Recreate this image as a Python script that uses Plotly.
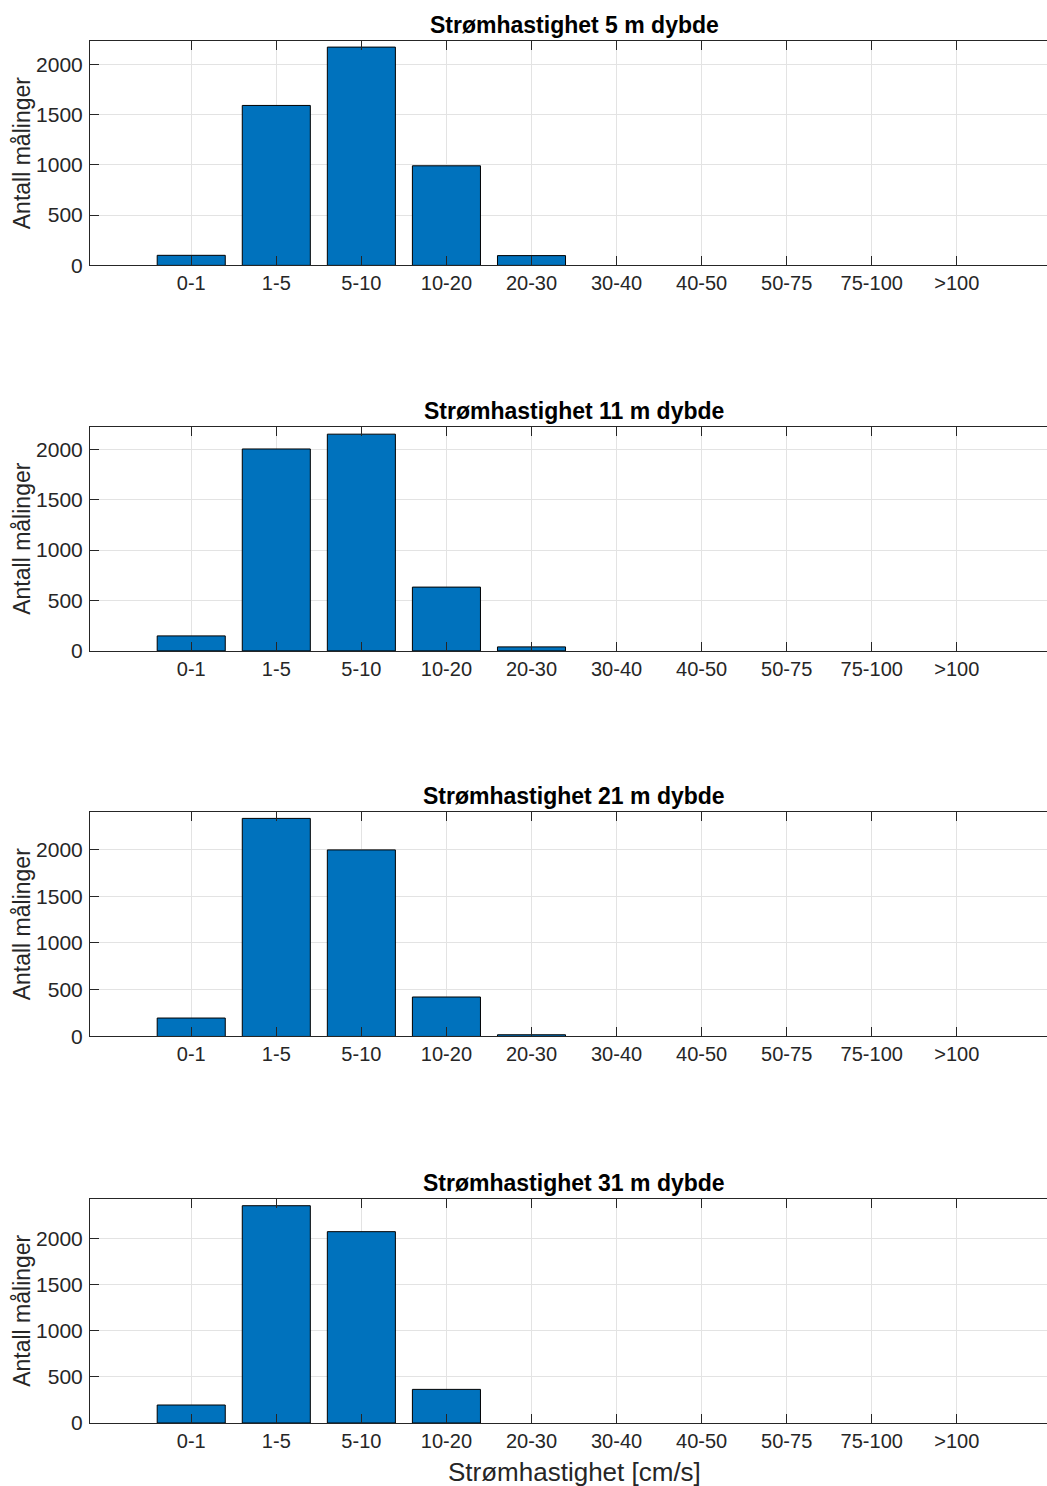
import plotly.graph_objects as go

categories = ["0-1", "1-5", "5-10", "10-20", "20-30", "30-40", "40-50", "50-75", "75-100", ">100"]
depths = ["5", "11", "21", "31"]
counts_5m = [100, 1590, 2170, 990, 97, 0, 0, 0, 0, 0]
counts_11m = [149, 2003, 2150, 633, 40, 0, 0, 0, 0, 0]
counts_21m = [197, 2333, 1996, 422, 18, 0, 0, 0, 0, 0]
counts_31m = [195, 2353, 2072, 364, 0, 0, 0, 0, 0, 0]
series = [counts_5m, counts_11m, counts_21m, counts_31m]
y_max = [2230, 2225, 2400, 2429]
y_ticks = [0, 500, 1000, 1500, 2000]

W, H = 1047, 1502
K = 1.0088  # vertical calibration of the rendered page
tops = [41, 426, 811, 1197]
bottoms = [265, 650, 1035, 1421]
left_px = 90

FONT = "Liberation Sans, Arial, Helvetica, sans-serif"
AX = "#262626"
GRID = "#e3e3e3"
BAR = "#0072BD"


def fy(px):
    return max(0.0, min(1.0, 1 - px * K / H))


xpos = list(range(1, len(categories) + 1))

fig = go.Figure()
annotations = []
for i, vals in enumerate(series):
    n = "" if i == 0 else str(i + 1)
    shown = [v if v > 0 else None for v in vals]
    fig.add_trace(go.Bar(
        x=xpos, y=shown, width=0.8,
        marker=dict(color=BAR, line=dict(color="#000000", width=1)),
        xaxis="x" + n, yaxis="y" + n, showlegend=False, hoverinfo="x+y",
    ))
    dom_y = [fy(bottoms[i]), fy(tops[i])]
    fig.layout["xaxis" + n] = dict(
        domain=[left_px / W, 1.0], anchor="y" + n,
        range=[-0.19, 11.06], tickmode="array", tickvals=xpos, ticktext=categories,
        showgrid=True, gridcolor=GRID, gridwidth=1,
        showline=True, linecolor=AX, linewidth=1, mirror="ticks",
        ticks="inside", ticklen=9, tickcolor=AX, tickwidth=1,
        tickfont=dict(family=FONT, size=20, color=AX), zeroline=False,
    )
    fig.layout["yaxis" + n] = dict(
        domain=dom_y, anchor="x" + n,
        range=[0, y_max[i]], tickmode="array", tickvals=y_ticks,
        showgrid=True, gridcolor=GRID, gridwidth=1,
        showline=True, linecolor=AX, linewidth=1, mirror=False,
        ticks="inside", ticklen=9, tickcolor=AX, tickwidth=1,
        tickfont=dict(family=FONT, size=21, color=AX), zeroline=False,
        ticklabelstandoff=2,
    )
    annotations.append(dict(
        text="Antall målinger", textangle=-90,
        x=22 / W, y=fy((tops[i] + bottoms[i]) / 2), xref="paper", yref="paper",
        xanchor="center", yanchor="middle", showarrow=False,
        font=dict(family=FONT, size=23, color=AX),
    ))
    annotations.append(dict(
        text="<b>Strømhastighet %s m dybde</b>" % depths[i],
        x=574 / W, y=fy(tops[i] - 16), xref="paper", yref="paper",
        xanchor="center", yanchor="middle", showarrow=False,
        font=dict(family=FONT, size=23, color="#000000"),
    ))

annotations.append(dict(
    text="Strømhastighet [cm/s]", x=574 / W, y=fy(1470), xref="paper", yref="paper",
    xanchor="center", yanchor="middle", showarrow=False,
    font=dict(family=FONT, size=26, color=AX),
))

fig.update_layout(
    width=W, height=H, autosize=False,
    margin=dict(l=0, r=0, t=0, b=0),
    paper_bgcolor="white", plot_bgcolor="white",
    annotations=annotations, bargap=0.2,
)

fig.write_html(
    "out.html",
    config={"responsive": False, "displayModeBar": False},
    post_script="document.body.style.margin='0';document.body.style.overflow='hidden';",
)
